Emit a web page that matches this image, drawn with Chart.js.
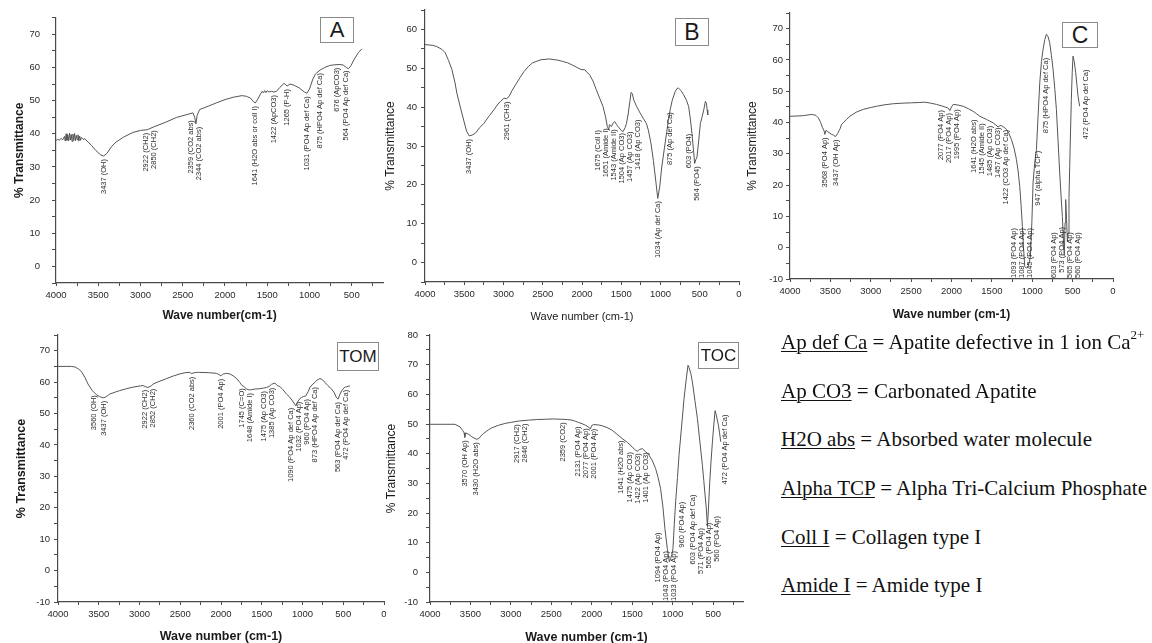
<!DOCTYPE html>
<html><head><meta charset="utf-8">
<script src="https://cdn.jsdelivr.net/npm/chart.js@4.4.1/dist/chart.umd.min.js"></script>
<style>
html,body{margin:0;padding:0;background:#fff;}
body{width:1152px;height:643px;position:relative;overflow:hidden;font-family:"Liberation Sans",Arial,sans-serif;}
.panel{position:absolute;}
.panel canvas{display:block;}
.tag{position:absolute;border:1px solid #8a8a8a;color:#1a1a1a;text-align:center;font-family:"Liberation Sans",Arial,sans-serif;background:#fff;box-sizing:border-box;}
.legend{position:absolute;left:781px;font-family:"Liberation Serif","Times New Roman",serif;font-size:21px;line-height:21px;color:#111;white-space:nowrap;}
.legend u{text-decoration:underline;text-decoration-thickness:1px;text-underline-offset:2px;}
.legend sup{font-size:13px;line-height:0;position:relative;top:-2px;}
</style></head><body>
<div class="panel" id="pA" style="left:0;top:0;width:385px;height:325px"><canvas id="cA"></canvas></div>
<div class="panel" id="pB" style="left:385px;top:0;width:362px;height:325px"><canvas id="cB"></canvas></div>
<div class="panel" id="pC" style="left:745px;top:0;width:407px;height:325px"><canvas id="cC"></canvas></div>
<div class="panel" id="pTOM" style="left:0;top:315px;width:386px;height:330px"><canvas id="cTOM"></canvas></div>
<div class="panel" id="pTOC" style="left:385px;top:315px;width:362px;height:330px"><canvas id="cTOC"></canvas></div>

<div class="tag" style="left:320px;top:17px;width:34px;height:26px;line-height:24px;font-size:22px">A</div>
<div class="tag" style="left:675px;top:18px;width:34px;height:28px;line-height:26px;font-size:23px">B</div>
<div class="tag" style="left:1062px;top:22px;width:36px;height:26px;line-height:24px;font-size:23px">C</div>
<div class="tag" style="left:337px;top:342px;width:42px;height:29px;line-height:27px;font-size:17px">TOM</div>
<div class="tag" style="left:698px;top:342px;width:41px;height:27px;line-height:25px;font-size:17px">TOC</div>

<div class="legend" style="top:332px"><u>Ap def Ca</u> = Apatite defective in 1 ion Ca<sup>2+</sup></div>
<div class="legend" style="top:381px"><u>Ap CO3</u> = Carbonated Apatite</div>
<div class="legend" style="top:429px"><u>H2O abs</u> = Absorbed water molecule</div>
<div class="legend" style="top:478px"><u>Alpha TCP</u> = Alpha Tri-Calcium Phosphate</div>
<div class="legend" style="top:527px"><u>Coll I</u> = Collagen type I</div>
<div class="legend" style="top:575px"><u>Amide I</u> = Amide type I</div>

<script>
// ---------------- DATA ----------------
const A_wavenumber = [4000,3980,3960,3940,3920,3900,3890,3880,3870,3860,3850,3840,3830,3820,3810,3800,3790,3780,3770,3760,3750,3740,3730,3720,3710,3700,3680,3660,3620,3580,3530,3470,3437,3400,3340,3290,3200,3090,3000,2922,2850,2700,2577,2450,2380,2359,2344,2330,2300,2200,2103,2000,1905,1800,1747,1700,1660,1641,1610,1580,1560,1545,1530,1515,1500,1480,1450,1422,1391,1350,1300,1265,1230,1180,1120,1060,1031,1000,960,930,875,820,760,700,640,600,564,540,510,470,420,380];
const A_transmittance = [38.0,38.3,38.1,38.6,38.2,39.2,37.8,40.0,38.0,39.6,37.9,40.2,38.1,39.8,37.7,39.9,38.0,40.1,37.9,39.5,38.2,39.7,37.8,39.3,38.0,38.9,38.3,38.5,37.5,36.5,35.0,33.6,33.3,34.0,36.2,37.5,39.0,40.4,41.0,41.2,42.0,43.5,44.9,45.8,46.3,45.0,43.0,45.5,47.3,48.3,49.3,50.3,51.0,51.5,51.3,50.8,49.6,49.3,50.5,52.0,52.8,52.3,53.0,52.4,53.0,52.6,52.8,52.6,52.8,54.0,55.2,54.4,55.0,54.6,53.8,52.6,52.2,53.5,56.5,58.0,59.2,60.0,60.6,60.8,60.9,60.7,60.0,59.6,60.5,62.5,64.5,65.6];
const A_peakWn = [3437,2922,2850,2359,2344,1641,1422,1265,1031,875,676,564];
const A_peakText = ["3437 (OH)","2922 (CH2)","2850 (CH2)","2359 (CO2 abs)","2344 (CO2 abs)","1641 (H2O abs or coll I)","1422 (ApCO3)","1265 (P-H)","1031 (PO4 Ap def Ca)","875 (HPO4 Ap def Ca)","676 (ApCO3)","564 (PO4 Ap def Ca)"];

const B_wavenumber = [4000,3900,3850,3780,3743,3700,3658,3620,3594,3550,3508,3470,3437,3400,3358,3300,3251,3180,3123,3070,3037,2995,2961,2930,2890,2845,2790,2738,2680,2631,2524,2417,2310,2250,2182,2120,2053,2000,1968,1940,1904,1860,1818,1775,1733,1700,1677,1660,1650,1626,1600,1583,1560,1540,1500,1476,1450,1433,1410,1390,1375,1360,1340,1305,1260,1219,1180,1155,1120,1091,1060,1035,1010,984,950,920,900,877,850,813,790,770,740,706,670,642,620,599,580,565,550,535,513,492,470,449,428,415,406,398];
const B_transmittance = [56.1,55.9,55.6,54.8,54.0,52.0,49.7,46.5,43.6,40.0,36.7,33.8,32.6,32.8,33.3,34.8,35.8,37.8,39.3,40.8,41.5,42.3,42.2,42.7,44.3,45.8,47.6,49.2,50.5,51.4,52.2,52.4,52.1,51.8,51.4,50.8,50.1,49.6,49.7,49.0,48.4,46.7,44.5,42.3,40.2,37.5,35.0,34.2,35.5,35.0,36.0,36.3,35.5,35.0,34.0,33.7,34.8,35.8,38.5,41.5,43.8,43.5,41.8,40.2,38.5,37.1,35.8,34.1,30.5,26.3,21.0,16.5,19.5,24.6,29.5,33.7,36.5,39.3,41.8,44.0,44.8,44.9,44.3,43.2,41.8,40.2,37.0,33.2,29.0,25.5,26.5,27.2,31.5,35.8,37.5,39.3,41.5,41.0,39.3,38.0];
const B_peakWn = [3437,2961,1675,1651,1543,1504,1457,1418,1034,875,603,564];
const B_peakText = ["3437 (OH)","2961 (CH3)","1675 (Coll I)","1651 (Amide I)","1543 (Amide II)","1504 (Ap CO3)","1457 (Ap CO3)","1418 (Ap CO3)","1034 (Ap def Ca)","875 (Ap def Ca)","603 (PO4)","564 (PO4)"];

const C_wavenumber = [4000,3900,3835,3732,3680,3649,3620,3600,3580,3568,3555,3530,3490,3464,3437,3410,3380,3361,3300,3258,3180,3093,3000,2928,2822,2722,2600,2495,2400,2330,2260,2186,2120,2082,2040,2020,2000,1979,1920,1856,1790,1732,1690,1649,1610,1567,1530,1485,1450,1423,1400,1381,1350,1320,1290,1258,1225,1196,1175,1155,1138,1122,1108,1093,1075,1052,1035,1023,1005,990,970,948,928,907,886,866,845,825,805,784,763,742,720,701,680,660,643,627,615,603,594,586,575,565,557,545,536,526,516,505,495,480,462,445,433,413];
const C_transmittance = [42.0,42.1,42.2,42.6,42.3,41.5,40.0,38.5,37.5,36.2,37.5,37.0,36.3,36.0,35.5,36.5,38.0,39.4,41.0,42.0,43.3,44.2,44.8,45.2,45.7,46.0,46.2,46.3,46.4,46.5,46.2,45.8,45.3,45.0,44.6,43.8,45.0,45.8,45.6,45.2,44.4,43.6,42.8,42.0,41.5,41.0,40.5,39.9,39.2,38.6,39.0,39.0,38.5,37.8,36.5,34.6,31.8,28.2,24.5,19.6,13.5,6.8,0.0,-6.0,-6.5,-6.0,-4.5,-2.8,8.0,20.7,27.0,31.4,42.0,52.7,59.5,63.4,66.5,68.2,67.5,65.5,61.5,57.0,50.5,44.2,34.0,23.9,16.5,10.0,3.0,-2.5,8.0,15.4,9.0,2.0,4.7,16.0,26.0,37.0,47.4,56.0,61.2,59.5,55.9,51.5,48.4,45.2];
const C_peakWn = [3568,3437,2077,2017,1995,1641,1545,1485,1457,1422,1093,1087,1045,947,875,603,573,565,560,472];
const C_peakText = ["3568 (PO4 Ap)","3437 (OH Ap)","2077 (PO4 Ap)","2017 (PO4 Ap)","1995 (PO4 Ap)","1641 (H2O abs)","1545 (Amide II)","1485 (Ap CO3)","1457 (Ap CO3)","1422 (CO3 Ap def Ca)","1093 (PO4 Ap)","1087 (PO4 Ap)","1045 (PO4 Ap)","947 (alpha TCP)","875 (HPO4 Ap def Ca)","603 (PO4 Ap)","573 (PO4 Ap)","565 (PO4 Ap)","560 (PO4 Ap)","472 (PO4 Ap def Ca)"];

const TOM_wavenumber = [4000,3900,3836,3790,3750,3713,3670,3632,3580,3529,3490,3460,3437,3400,3366,3300,3243,3160,3079,2990,2956,2922,2895,2850,2833,2760,2670,2580,2506,2440,2383,2360,2342,2300,2260,2150,2056,2020,2001,1980,1933,1890,1851,1810,1769,1745,1720,1687,1648,1626,1580,1524,1475,1442,1410,1380,1339,1310,1278,1240,1196,1160,1122,1095,1081,1068,1053,1030,1012,990,960,930,910,873,848,820,787,760,725,690,643,610,582,563,545,521,490,472,459,440,418];
const TOM_transmittance = [65.0,65.0,65.0,64.8,64.2,63.4,61.5,59.4,57.3,56.0,55.4,55.1,55.0,55.5,56.2,56.8,57.3,57.9,58.4,58.8,58.9,58.5,58.3,58.9,59.4,60.2,61.1,62.0,62.6,63.0,63.1,62.7,62.9,63.1,63.1,63.0,62.8,62.3,62.0,62.5,62.8,62.6,62.0,61.2,59.9,59.0,58.6,57.8,57.5,57.6,57.8,57.9,58.1,58.3,58.6,59.3,59.7,58.9,58.6,57.6,56.2,55.3,54.0,53.0,52.4,53.2,54.0,54.8,55.1,55.4,55.6,57.0,58.3,59.4,59.9,60.7,61.1,60.9,59.9,58.9,57.8,56.6,55.0,54.6,55.9,57.2,58.2,58.5,58.5,58.7,58.8];
const TOM_peakWn = [3560,3437,2922,2852,2360,2001,1745,1648,1475,1385,1090,1032,960,873,563,472];
const TOM_peakText = ["3560 (OH)","3437 (OH)","2922 (CH2)","2852 (CH2)","2360 (CO2 abs)","2001 (PO4 Ap)","1745 (C=O)","1648 (Amide I)","1475 (Ap CO3)","1385 (Ap CO3)","1090 (PO4 Ap def Ca)","1032 (PO4 Ap)","960 (PO4 Ap)","873 (HPO4 Ap def Ca)","563 (PO4 Ap def Ca)","472 (PO4 Ap def Ca)"];

const TOC_wavenumber = [4000,3800,3690,3628,3595,3578,3570,3560,3520,3483,3430,3400,3370,3339,3280,3236,3150,3070,2990,2905,2781,2680,2574,2470,2368,2300,2244,2200,2161,2120,2079,2040,2017,2000,1975,1920,1872,1810,1748,1690,1624,1560,1500,1470,1438,1410,1376,1340,1293,1250,1211,1180,1149,1120,1095,1066,1040,1025,1010,996,980,963,940,921,890,859,830,810,797,775,756,725,694,663,632,615,599,585,570,560,541,525,508,490,475,460,445,434,420,405];
const TOC_transmittance = [49.9,49.9,49.9,49.0,47.8,47.0,45.5,47.0,46.5,45.7,44.9,45.0,46.0,46.8,48.0,48.7,49.6,50.2,50.6,51.0,51.3,51.5,51.6,51.7,51.6,51.5,51.3,50.9,50.5,50.1,49.6,49.0,48.3,49.5,49.8,49.7,49.4,48.8,47.9,46.6,45.1,43.8,42.3,41.4,40.8,41.4,41.7,40.8,39.5,37.6,35.0,32.0,28.2,22.0,14.7,8.0,3.5,4.6,6.0,8.0,16.0,23.7,32.0,39.5,49.0,58.6,65.5,69.8,69.0,67.0,64.2,58.0,51.9,44.0,36.1,31.0,26.0,22.0,15.5,20.0,30.5,37.5,44.0,50.0,54.5,53.0,51.0,49.6,47.0,44.0];
const TOC_peakWn = [3570,3430,2917,2846,2359,2131,2077,2001,1641,1475,1422,1401,1094,1043,1033,960,603,571,565,560,472];
const TOC_peakText = ["3570 (OH Ap)","3430 (H2O abs)","2917 (CH2)","2846 (CH2)","2359 (CO2)","2131 (PO4 Ap)","2077 (PO4 Ap)","2001 (PO4 Ap)","1641 (H2O abs)","1475 (Ap CO3)","1422 (Ap CO3)","1401 (Ap CO3)","1094 (PO4 Ap)","1043 (PO4 Ap)","1033 (PO4 Ap)","960 (PO4 Ap)","603 (PO4 Ap def Ca)","571 (PO4 Ap)","565 (PO4 Ap)","560 (PO4 Ap)","472 (PO4 Ap def Ca)"];

const X_TITLE = "Wave number (cm-1)";
const X_TITLE_A = "Wave number(cm-1)";
const Y_TITLE = "% Transmittance";

// ---------------- RENDERING ----------------
const FONT = '"Liberation Sans", Arial, sans-serif';
Chart.defaults.font.family = FONT;
Chart.defaults.color = '#2a2a2a';

function interp(wns, ts, w) {
  for (let i = 0; i < wns.length - 1; i++) {
    if (wns[i] >= w && wns[i + 1] <= w) {
      const f = (wns[i] - w) / (wns[i] - wns[i + 1]);
      return ts[i] + f * (ts[i + 1] - ts[i]);
    }
  }
  return ts[ts.length - 1];
}

const peakLabelPlugin = {
  id: 'peakLabels',
  afterDatasetsDraw(chart, args, opts) {
    if (!opts || !opts.wn) return;
    const {ctx, chartArea, scales} = chart;
    const xs = scales.x, ys = scales.y;
    ctx.save();
    ctx.font = opts.fontSize + 'px ' + FONT;
    ctx.fillStyle = '#2e2e2e';
    const items = opts.wn.map((w, i) => ({
      x0: xs.getPixelForValue(w),
      val: interp(opts.srcWn, opts.srcT, w),
      text: opts.text[i],
      len: ctx.measureText(opts.text[i]).width
    }));
    items.sort((a, b) => a.x0 - b.x0);
    const sep = opts.sep;
    let clusters = items.map(it => ({items: [it], center: it.x0}));
    let changed = true;
    while (changed) {
      changed = false;
      for (let i = 0; i < clusters.length - 1; i++) {
        const a = clusters[i], b = clusters[i + 1];
        const aEnd = a.center + (a.items.length - 1) / 2 * sep;
        const bStart = b.center - (b.items.length - 1) / 2 * sep;
        if (bStart - aEnd < sep) {
          const merged = a.items.concat(b.items);
          const c = merged.reduce((s, it) => s + it.x0, 0) / merged.length;
          clusters.splice(i, 2, {items: merged, center: c});
          changed = true;
          break;
        }
      }
    }
    clusters.forEach(cl => {
      const n = cl.items.length;
      cl.items.forEach((it, k) => {
        const x = cl.center + (k - (n - 1) / 2) * sep;
        let top = ys.getPixelForValue(it.val) + opts.gap;
        if (top + it.len > chartArea.bottom - 1) top = chartArea.bottom - 1 - it.len;
        ctx.save();
        ctx.translate(x, top);
        ctx.rotate(-Math.PI / 2);
        ctx.textAlign = 'right';
        ctx.textBaseline = 'middle';
        ctx.fillText(it.text, 0, 0);
        ctx.restore();
      });
    });
    ctx.restore();
  }
};

function makeTicks(min, max, step) {
  const out = [];
  const start = Math.ceil(min / step) * step;
  for (let v = start; v <= max + 1e-9; v += step) out.push(v);
  return out;
}

function makePanel(canvasId, p) {
  const data = p.wn.map((w, i) => ({x: w, y: p.t[i]}));
  const xTicks = makeTicks(p.xMin, 4000, 250);
  const yTicks = makeTicks(p.yMin, p.yMax, 5);
  const axisColor = '#4a4a4a';
  new Chart(document.getElementById(canvasId), {
    type: 'line',
    data: {datasets: [{data, borderColor: '#555', borderWidth: 1, pointRadius: 0, tension: 0, fill: false}]},
    plugins: [peakLabelPlugin],
    options: {
      responsive: true, maintainAspectRatio: false, animation: false,
      layout: {padding: {left: 0, right: p.padR, top: p.padT, bottom: 0}},
      plugins: {
        legend: {display: false}, tooltip: {enabled: false},
        peakLabels: {wn: p.peakWn, text: p.peakText, srcWn: p.wn, srcT: p.t, fontSize: 7.5, sep: 8, gap: 3}
      },
      scales: {
        x: {
          type: 'linear', reverse: true, min: p.xMin, max: 4000,
          afterBuildTicks: s => { s.ticks = xTicks.map(v => ({value: v})); },
          afterFit: s => { s.height = p.xH; },
          ticks: {autoSkip: false, maxRotation: 0, padding: 4, font: {size: 9.5}, color: '#2a2a2a',
                  callback: v => (v % 500 === 0 ? String(v) : '')},
          grid: {drawOnChartArea: false, drawTicks: true, tickLength: 3, color: axisColor},
          border: {display: true, color: axisColor, width: 1.2},
          title: {display: true, text: p.xTitle, color: '#1a1a1a',
                  font: {size: p.xTitleSize, weight: p.xTitleWeight, lineHeight: 1},
                  padding: {top: 0, bottom: p.xTitlePad}}
        },
        y: {
          type: 'linear', min: p.yMin, max: p.yMax,
          afterBuildTicks: s => { s.ticks = yTicks.map(v => ({value: v})); },
          afterFit: s => { s.width = p.yW; },
          ticks: {autoSkip: false, padding: p.yTickPad, font: {size: 9.5}, color: '#2a2a2a',
                  callback: v => (v % 10 === 0 ? String(v) : '')},
          grid: {drawOnChartArea: false, drawTicks: true, tickLength: 4, color: axisColor},
          border: {display: true, color: axisColor, width: 1.2},
          title: {display: true, text: Y_TITLE, color: '#1a1a1a',
                  font: {size: p.yTitleSize, weight: p.yTitleWeight, lineHeight: 1},
                  padding: {top: p.yTitlePad, bottom: 0}}
        }
      }
    }
  });
}

makePanel('cA', {wn: A_wavenumber, t: A_transmittance, peakWn: A_peakWn, peakText: A_peakText,
  xMin: 130, yMin: -5, yMax: 75, yW: 56, xH: 42, padR: 2, padT: 15, yTickPad: 12,
  xTitle: X_TITLE_A, xTitleSize: 12, xTitleWeight: 'bold', xTitlePad: 3,
  yTitleSize: 12, yTitleWeight: 'bold', yTitlePad: 14});
makePanel('cB', {wn: B_wavenumber, t: B_transmittance, peakWn: B_peakWn, peakText: B_peakText,
  xMin: 0, yMin: -5, yMax: 65, yW: 40, xH: 43, padR: 8, padT: 10, yTickPad: 4,
  xTitle: X_TITLE, xTitleSize: 11, xTitleWeight: 'normal', xTitlePad: 3,
  yTitleSize: 12, yTitleWeight: 'normal', yTitlePad: 0});
makePanel('cC', {wn: C_wavenumber, t: C_transmittance, peakWn: C_peakWn, peakText: C_peakText,
  xMin: 0, yMin: -10, yMax: 75, yW: 45, xH: 46, padR: 39, padT: 13, yTickPad: 3,
  xTitle: X_TITLE, xTitleSize: 12, xTitleWeight: 'bold', xTitlePad: 4,
  yTitleSize: 12, yTitleWeight: 'normal', yTitlePad: 2});
makePanel('cTOM', {wn: TOM_wavenumber, t: TOM_transmittance, peakWn: TOM_peakWn, peakText: TOM_peakText,
  xMin: 0, yMin: -10, yMax: 75, yW: 58, xH: 43, padR: 2, padT: 20, yTickPad: 4,
  xTitle: X_TITLE, xTitleSize: 12.5, xTitleWeight: 'bold', xTitlePad: 2,
  yTitleSize: 12.5, yTitleWeight: 'bold', yTitlePad: 15});
makePanel('cTOC', {wn: TOC_wavenumber, t: TOC_transmittance, peakWn: TOC_peakWn, peakText: TOC_peakText,
  xMin: 130, yMin: -10, yMax: 80, yW: 45, xH: 43, padR: 4, padT: 20, yTickPad: 8,
  xTitle: X_TITLE, xTitleSize: 12.5, xTitleWeight: 'bold', xTitlePad: 1,
  yTitleSize: 12, yTitleWeight: 'normal', yTitlePad: 1});
</script>
</body></html>
